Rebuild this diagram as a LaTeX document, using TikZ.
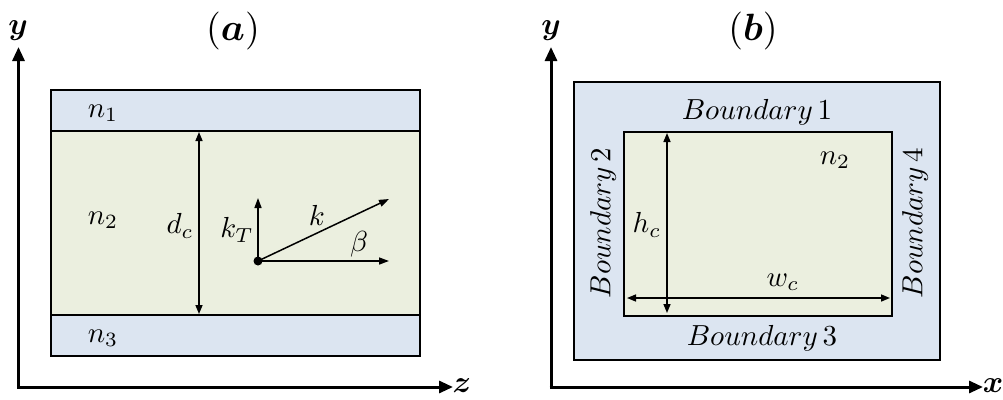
\documentclass[tikz,border=0pt]{standalone}
\usepackage{amsmath}
\usepackage{bm}
\usepackage{graphicx}
\usetikzlibrary{arrows.meta}
\definecolor{clad}{HTML}{DCE5F1}
\definecolor{core}{HTML}{EBEFDF}
\newcommand{\lb}[1]{\scalebox{2.9}{$#1$}}
\newcommand{\tl}[1]{\scalebox{3.8}{$#1$}}
\newcommand{\ax}[1]{\scalebox{3.1}{$#1$}}
\tikzset{
  lbl/.style={inner sep=0pt},
  axis/.style={line width=3pt, -{Triangle[length=14pt,width=12pt]}},
  box/.style={line width=2.5pt, draw=black},
  dim/.style={line width=1.5pt, {Triangle[length=9pt,width=7pt]}-{Triangle[length=9pt,width=7pt]}},
  vec/.style={line width=1.5pt, -{Triangle[length=10pt,width=7pt]}},
}
\begin{document}
\begin{tikzpicture}[x=1pt,y=-1pt]
\useasboundingbox (0,0) rectangle (1003,399);
% ---------- panel (a) ----------
\node[lbl] (ta) at (233,31) {\tl{(\bm{a})}};
\coordinate (ao) at (18.5,387);
\coordinate (ay) at (18.5,47);
\coordinate (az) at (453,387);
\draw[axis] (ao) -- (ay);
\draw[axis] ([xshift=-1.5pt]ao) -- (az);
\node[lbl] (ya) at (18,31) {\ax{\bm{y}}};
\node[lbl] (za) at (462,386) {\ax{\bm{z}}};
% layers
\draw[box, fill=clad] (51,90) rectangle (420,131);
\draw[box, fill=clad] (51,315) rectangle (420,356);
\draw[box, fill=core] (51,131) rectangle (420,315);
\node[lbl] (n1) at (103,113) {\lb{n_1}};
\node[lbl] (n2a) at (103,220) {\lb{n_2}};
\node[lbl] (n3) at (103,338) {\lb{n_3}};
\coordinate (dct) at (199,132);
\coordinate (dcb) at (199,314);
\draw[dim] (dct) -- (dcb);
\node[lbl] (dc) at (180,226) {\lb{d_c}};
\coordinate (o) at (258,261);
\coordinate (kt) at (258,198);
\coordinate (kk) at (389,199);
\coordinate (bb) at (389,261);
\draw[vec] (o) -- (kt);
\draw[vec] (o) -- (kk);
\draw[vec] (o) -- (bb);
\fill (o) circle (4.5pt);
\node[lbl] (ktl) at (237,230) {\lb{k_T}};
\node[lbl] (kl) at (317,215) {\lb{k}};
\node[lbl] (bl) at (359,244) {\lb{\beta}};
% ---------- panel (b) ----------
\node[lbl] (tb) at (753,31) {\tl{(\bm{b})}};
\coordinate (bo) at (551,387);
\coordinate (by) at (551,47);
\coordinate (bx) at (983,387);
\draw[axis] (bo) -- (by);
\draw[axis] ([xshift=-1.5pt]bo) -- (bx);
\node[lbl] (yb) at (551,31) {\ax{\bm{y}}};
\node[lbl] (xb) at (993,386) {\ax{\bm{x}}};
\draw[box, fill=clad] (574,82) rectangle (940,360);
\draw[box, fill=core] (624,132) rectangle (892,316);
\node[lbl] (b1) at (757,112) {\lb{Boundary\,1}};
\node[lbl] (b3) at (762,338) {\lb{Boundary\,3}};
\node[lbl, rotate=90] (b2) at (603,223) {\lb{Boundary\,2}};
\node[lbl, rotate=90] (b4) at (915,223) {\lb{Boundary\,4}};
\node[lbl] (n2b) at (835,160) {\lb{n_2}};
\coordinate (hct) at (667,133);
\coordinate (hcb) at (667,313);
\draw[dim] (hct) -- (hcb);
\node[lbl] (hc) at (647,225) {\lb{h_c}};
\coordinate (wcl) at (627,298);
\coordinate (wcr) at (890,298);
\draw[dim] (wcl) -- (wcr);
\node[lbl] (wc) at (783,282) {\lb{w_c}};
\end{tikzpicture}
\end{document}
